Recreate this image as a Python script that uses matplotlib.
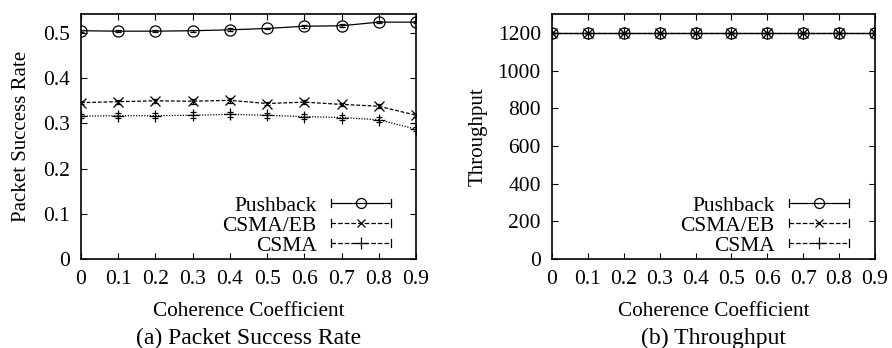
import numpy as np
import matplotlib
matplotlib.use("Agg")
import matplotlib.pyplot as plt
from matplotlib.lines import Line2D
from matplotlib.legend_handler import HandlerBase

plt.rcParams.update(
    {
        "font.family": "Liberation Serif",
        "font.size": 15.5,
        "axes.linewidth": 1.2,
        "xtick.direction": "in",
        "ytick.direction": "in",
        "xtick.top": True,
        "ytick.right": True,
        "xtick.major.size": 4,
        "ytick.major.size": 4,
        "xtick.major.pad": 8,
        "ytick.major.pad": 8,
    }
)

coherence = [0, 0.1, 0.2, 0.3, 0.4, 0.5, 0.6, 0.7, 0.8, 0.9]
x_ticklabels = ["0", "0.1", "0.2", "0.3", "0.4", "0.5", "0.6", "0.7", "0.8", "0.9"]

psr_pushback = [0.505, 0.504, 0.504, 0.505, 0.507, 0.510, 0.515, 0.516, 0.524, 0.524]
psr_csma_eb = [0.346, 0.348, 0.350, 0.349, 0.351, 0.344, 0.347, 0.342, 0.338, 0.318]
psr_csma = [0.316, 0.317, 0.317, 0.318, 0.320, 0.318, 0.315, 0.313, 0.308, 0.287]
err_pushback = [0.002, 0.002, 0.002, 0.002, 0.003, 0.002, 0.003, 0.003, 0.002, 0.002]
err_csma_eb = [0.004, 0.004, 0.004, 0.005, 0.006, 0.004, 0.004, 0.004, 0.004, 0.004]
err_csma = [0.005, 0.005, 0.005, 0.007, 0.005, 0.005, 0.006, 0.006, 0.006, 0.004]

tput_pushback = [1200] * 10
tput_csma_eb = [1200] * 10
tput_csma = [1200] * 10

names = ["Pushback", "CSMA/EB", "CSMA"]
styles = [
    dict(linestyle="-", marker="o", markersize=8, markerfacecolor="none"),
    dict(linestyle=(0, (3, 1.5)), marker="x", markersize=7),
    dict(linestyle=(0, (1, 1.2)), marker="+", markersize=9),
]


class GnuplotKey(HandlerBase):
    # line sample with end caps and the point in the middle, like a gnuplot key
    def create_artists(self, legend, orig_handle, xdescent, ydescent,
                       width, height, fontsize, trans):
        y = height / 2 - ydescent
        x0, x1 = -xdescent, width - xdescent
        cap = 0.18 * fontsize
        line = Line2D([x0, x1], [y, y], color="black", lw=0.9,
                      linestyle=orig_handle.get_linestyle())
        caps = Line2D([x0, x0, np.nan, x1, x1], [y - cap, y + cap, np.nan, y - cap, y + cap],
                      color="black", lw=0.9)
        mark = Line2D([(x0 + x1) / 2], [y], color="black", linestyle="none",
                      marker=orig_handle.get_marker(), markersize=orig_handle.get_markersize() * 0.9,
                      markerfacecolor="none", markeredgewidth=0.9)
        for a in (line, caps, mark):
            a.set_transform(trans)
        return [line, caps, mark]


fig = plt.figure(figsize=(8.92, 3.48), dpi=100)
ax1 = fig.add_axes([81 / 892, 1 - 259 / 348, 335 / 892, 245 / 348])
ax2 = fig.add_axes([552 / 892, 1 - 259 / 348, 323 / 892, 245 / 348])

psr = [psr_pushback, psr_csma_eb, psr_csma]
errs = [err_pushback, err_csma_eb, err_csma]
tput = [tput_pushback, tput_csma_eb, tput_csma]

handles = []
for name, st, y, e in zip(names, styles, psr, errs):
    ax1.errorbar(coherence, y, yerr=e, color="black", lw=0.9, elinewidth=0.8,
                 capsize=2, markeredgewidth=0.9, **st)
    handles.append(Line2D([], [], color="black", label=name, **st))
for name, st, y in zip(names, styles, tput):
    ax2.errorbar(coherence, y, yerr=0, color="black", lw=0.9, elinewidth=0.8,
                 capsize=2, markeredgewidth=0.9, **st)

ax1.set_ylim(0, 0.542)
ax1.set_yticks([0, 0.1, 0.2, 0.3, 0.4, 0.5])
ax1.set_yticklabels(["0", "0.1", "0.2", "0.3", "0.4", "0.5"])
ax1.set_ylabel("Packet Success Rate", labelpad=9, fontsize=15)

ax2.set_ylim(0, 1300)
ax2.set_yticks([0, 200, 400, 600, 800, 1000, 1200])
ax2.set_ylabel("Throughput", labelpad=7, fontsize=15)

for ax, cap, kx in ((ax1, "(a) Packet Success Rate", 0.973), (ax2, "(b) Throughput", 0.969)):
    ax.set_xlim(0, 0.9)
    ax.set_xticks(coherence)
    ax.set_xticklabels(x_ticklabels)
    ax.set_xlabel("Coherence Coefficient", fontsize=15.3, labelpad=9)
    ax.text(0.5, -0.325, cap, transform=ax.transAxes, ha="center", va="center", fontsize=17)
    ax.legend(handles=handles, loc="lower right", bbox_to_anchor=(kx, -0.053),
              markerfirst=False, frameon=False, handlelength=2.8, handletextpad=0.65,
              labelspacing=0.0, borderaxespad=0.35, fontsize=15.5,
              handler_map={Line2D: GnuplotKey()})

fig.savefig("out.png", dpi=100)
